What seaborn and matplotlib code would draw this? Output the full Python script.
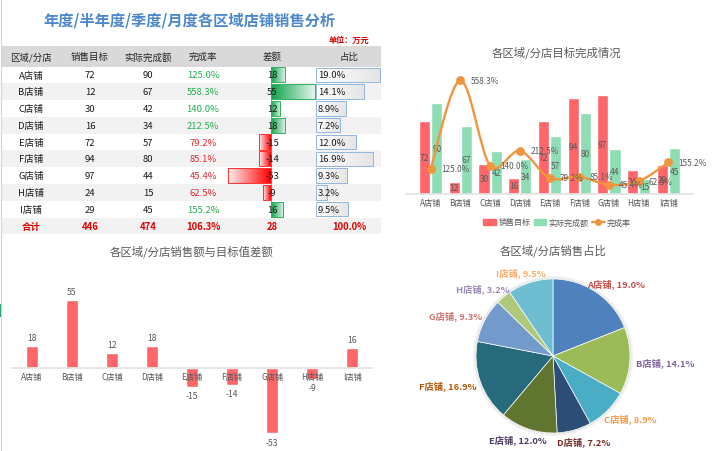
import numpy as np
import pandas as pd
import matplotlib
matplotlib.use("Agg")
import matplotlib.pyplot as plt
import matplotlib.colors as mcolors
from matplotlib.patches import Rectangle, PathPatch, Patch, Circle
from matplotlib.lines import Line2D
from matplotlib.path import Path
import seaborn as sns

# ---------------- data ----------------
stores = ['A店铺', 'B店铺', 'C店铺', 'D店铺', 'E店铺', 'F店铺', 'G店铺', 'H店铺', 'I店铺']
targets = [72, 12, 30, 16, 72, 94, 97, 24, 29]
actuals = [90, 67, 42, 34, 57, 80, 44, 15, 45]
rates = [125.0, 558.3, 140.0, 212.5, 79.2, 85.1, 45.4, 62.5, 155.2]
diffs = [18, 55, 12, 18, -15, -14, -53, -9, 16]
shares = [19.0, 14.1, 8.9, 7.2, 12.0, 16.9, 9.3, 3.2, 9.5]
headers = ['区域/分店', '销售目标', '实际完成额', '完成率', '差额', '占比']
total_row = ['合计', '446', '474', '106.3%', '28', '100.0%']
series_names = ['销售目标', '实际完成额', '完成率']

main_title = '年度/半年度/季度/月度各区域店铺销售分析'
unit_text = '单位：万元'
title_combo = '各区域/分店目标完成情况'
title_diff = '各区域/分店销售额与目标值差额'
title_pie = '各区域/分店销售占比'

# ---------------- style ----------------
sns.set_theme(style='white')
plt.rcParams['font.family'] = ['Noto Sans CJK SC', 'DejaVu Sans']
plt.rcParams['axes.unicode_minus'] = False

RED = '#FF6669'
MINT = '#8FDDB3'
ORANGE = '#F0953F'
GRAY_TXT = '#595959'
GREEN_TXT = '#22B14C'
RED_TXT = '#E8262B'

W, H = 726, 452
fig = plt.figure(figsize=(W / 100, H / 100), dpi=100)
fig.patch.set_facecolor('white')


def px_axes(x0, y0, x1, y1, **kw):
    return fig.add_axes([x0 / W, 1 - y1 / H, (x1 - x0) / W, (y1 - y0) / H], **kw)


bg = fig.add_axes([0, 0, 1, 1], zorder=0)
bg.set_xlim(0, W); bg.set_ylim(H, 0); bg.axis('off')
bg.plot([0.6, 0.6], [0, H], color='#D4D4D4', lw=0.8)
bg.add_patch(Rectangle((0, 305), 1.8, 13, color='#21A366', lw=0))

# ---------------- table ----------------
ROW0, RH = 67.5, 16.78
bg.add_patch(Rectangle((2, 47), 379, ROW0 - 47, color='#D9D9D9', lw=0))
for i in range(10):
    if i % 2 == 1:
        bg.add_patch(Rectangle((2, ROW0 + i * RH), 379, RH, color='#F2F2F2', lw=0))


def gradient_bars(ax, colors_axis, colors_far, edges):
    xl, yl = ax.get_xlim(), ax.get_ylim()
    t = np.linspace(0, 1, 64)[:, None]
    for p, ca, cf, ec in zip(ax.patches, colors_axis, colors_far, edges):
        x0, y0, w, h = p.get_x(), p.get_y(), p.get_width(), p.get_height()
        if w == 0:
            continue
        c0 = np.array(mcolors.to_rgb(ca)); c1 = np.array(mcolors.to_rgb(cf))
        cols = c0[None, :] * (1 - t) + c1[None, :] * t
        im = ax.imshow(cols[None, :, :], extent=[x0, x0 + w, y0, y0 + h], aspect='auto',
                       interpolation='bilinear', zorder=p.get_zorder() - 0.1)
        im.set_clip_path(p)
        p.set_facecolor('none'); p.set_edgecolor(ec); p.set_linewidth(0.7)
    ax.set_xlim(xl); ax.set_ylim(yl)


# difference data bars
axd = px_axes(225, ROW0, 320, ROW0 + 9 * RH, zorder=2)
sns.barplot(x=diffs, y=stores, orient='h', color='#22B14C', width=0.9, ax=axd)
axd.set_xlim(-(270.5 - 225) / 0.8, (320 - 270.5) / 0.8)
axd.set_ylim(8.5, -0.5)
gradient_bars(axd,
              ['#0FA24C' if d >= 0 else '#FF0000' for d in diffs],
              ['#E3F5E9' if d >= 0 else '#FFF0F0' for d in diffs],
              ['#33B25E' if d >= 0 else '#FF3030' for d in diffs])
axd.axvline(0, color='#7F7F7F', lw=0.5, zorder=3)
axd.axis('off'); axd.patch.set_alpha(0)

# share data bars
axs = px_axes(316, ROW0, 384, ROW0 + 9 * RH, zorder=2)
sns.barplot(x=shares, y=stores, orient='h', color='white', width=0.86, ax=axs)
axs.set_xlim(0, 68 / 3.37)
axs.set_ylim(8.5, -0.5)
gradient_bars(axs, ['#FFFFFF'] * 9, ['#E4E4E4'] * 9, ['#92B6DE'] * 9)
axs.axis('off'); axs.patch.set_alpha(0)

# ---------------- combo chart (top right) ----------------
ax1 = px_axes(406, 73, 693, 195, zorder=2)
df = pd.DataFrame({'store': stores * 2,
                   'value': targets + actuals,
                   'series': [series_names[0]] * len(stores) + [series_names[1]] * len(stores)})
sns.barplot(data=df, x='store', y='value', hue='series', palette=[RED, MINT],
            width=0.82, gap=0.08, ax=ax1, legend=False, saturation=1)
ax1.set_ylim(0, 120)
for c in ax1.containers:
    ax1.bar_label(c, label_type='center', fontsize=6, color=GRAY_TXT)
for s in ['left', 'right', 'top']:
    ax1.spines[s].set_visible(False)
ax1.spines['bottom'].set_color('#E3E3E3')
ax1.set_yticks([])
ax1.set_xlabel(''); ax1.set_ylabel('')
ax1.tick_params(axis='x', length=0, labelsize=5.9, colors=GRAY_TXT, pad=3)
ax1.patch.set_alpha(0)

ax2 = ax1.twinx()
ax2.set_ylim(0, 600)
xs = np.arange(len(rates), dtype=float)
P = np.column_stack([xs, np.array(rates, dtype=float)])
Pe = np.vstack([P[0], P, P[-1]])
verts = [tuple(P[0])]
codes = [Path.MOVETO]
for i in range(len(P) - 1):
    p0, p1, p2, p3 = Pe[i], Pe[i + 1], Pe[i + 2], Pe[i + 3]
    c1 = p1 + (p2 - p0) / 6.0
    c2 = p2 - (p3 - p1) / 6.0
    verts += [tuple(c1), tuple(c2), tuple(p2)]
    codes += [Path.CURVE4] * 3
ax2.add_patch(PathPatch(Path(verts, codes), fill=False, edgecolor=ORANGE, lw=1.7, zorder=4))
sns.scatterplot(x=xs, y=rates, ax=ax2, color=ORANGE, s=34, edgecolor=ORANGE, zorder=5, legend=False)
for x, r in zip(xs, rates):
    ax2.annotate(f'{r:.1f}%', (x, r), xytext=(7.5, 0), textcoords='offset points',
                 ha='left', va='center', fontsize=5.9, color=GRAY_TXT, zorder=6)
for s in ax2.spines.values():
    s.set_visible(False)
ax2.set_yticks([]); ax2.set_ylabel('')

handles = [Patch(color=RED), Patch(color=MINT),
           Line2D([0], [0], color=ORANGE, lw=1.6, marker='o', ms=4)]
fig.legend(handles, series_names, loc='center', bbox_to_anchor=(557 / W, 1 - 223 / H),
           bbox_transform=fig.transFigure, ncol=3, frameon=False, fontsize=5.8,
           handlelength=1.6, handleheight=0.8, columnspacing=0.4, handletextpad=0.25,
           labelcolor=GRAY_TXT)

# ---------------- difference chart (bottom left) ----------------
ax3 = px_axes(12, 295, 372, 443, zorder=2)
sns.barplot(x=stores, y=diffs, color=RED, width=0.3, ax=ax3, saturation=1)
ax3.set_ylim(-60, 60)
ax3.bar_label(ax3.containers[0], padding=3, fontsize=6.2, color=GRAY_TXT)
for s in ['left', 'right', 'top']:
    ax3.spines[s].set_visible(False)
ax3.spines['bottom'].set_position(('data', 0))
ax3.spines['bottom'].set_color('#E3E3E3')
ax3.set_axisbelow(False)
ax3.set_yticks([])
ax3.tick_params(axis='x', length=0, labelsize=5.9, colors=GRAY_TXT, pad=3)
ax3.set_xlabel(''); ax3.set_ylabel('')
ax3.patch.set_alpha(0)

# ---------------- pie (bottom right) ----------------
pie_colors = ['#4F81BD', '#9BBB59', '#4BACC6', '#2C4D75', '#5F7530',
              '#276A7C', '#729ACA', '#AFC97A', '#6FBDD1']
label_colors = ['#C0504D', '#8064A2', '#F79646', '#772C2A', '#4D3B62',
                '#B65708', '#CD7371', '#9C8AB3', '#F9AB6B']
r_half = 77 * 1.25
axp = px_axes(553 - r_half, 357 - r_half, 553 + r_half, 357 + r_half, zorder=2)
axp.add_patch(Circle((0, 0), 1.04, color='#E2E2E2', alpha=0.35, lw=0, zorder=0))
axp.add_patch(Circle((0, 0), 1.02, color='#D6D6D6', alpha=0.45, lw=0, zorder=0))
wedges, texts = axp.pie(shares, colors=pie_colors, startangle=90, counterclock=False,
                        labels=[f'{s}, {v:.1f}%' for s, v in zip(stores, shares)],
                        labeldistance=1.1,
                        textprops=dict(fontsize=6.7, fontweight='bold'),
                        wedgeprops=dict(edgecolor='white', linewidth=0.5))
axp.set_xlim(-1.25, 1.25); axp.set_ylim(-1.25, 1.25)
axp.set_aspect('equal')

fig.canvas.draw()
renderer = fig.canvas.get_renderer()
inv = axp.transData.inverted()
for w_, t, c in zip(wedges, texts, label_colors):
    t.set_color(c)
    th = np.deg2rad((w_.theta1 + w_.theta2) / 2)
    bb = t.get_window_extent(renderer)
    (x0, y0), (x1, y1) = inv.transform([[bb.x0, bb.y0], [bb.x1, bb.y1]])
    tw, tht = abs(x1 - x0), abs(y1 - y0)
    px, py = 1.08 * np.cos(th), 1.08 * np.sin(th)
    t.set_position((px + tw / 2 * np.cos(th), py + tht / 2 * np.sin(th)))
    t.set_ha('center'); t.set_va('center')

# ---------------- foreground texts ----------------
fg = fig.add_axes([0, 0, 1, 1], zorder=10)
fg.set_xlim(0, W); fg.set_ylim(H, 0); fg.axis('off'); fg.patch.set_alpha(0)

fg.text(190, 20, main_title, ha='center', va='center', fontsize=11, fontweight='bold', color='#4D88CC')
fg.text(369, 40, unit_text, ha='right', va='center', fontsize=5.9, fontweight='bold', color='#E00000')

col_x = [31, 90, 148, 203, 272, 349]
for x, h in zip(col_x, headers):
    fg.text(x, 57.5, h, ha='center', va='center', fontsize=6.8, color='#262626')
for i in range(len(stores)):
    yc = ROW0 + (i + 0.5) * RH
    fg.text(col_x[0], yc, stores[i], ha='center', va='center', fontsize=6.8, color='#1A1A1A')
    fg.text(col_x[1], yc, str(targets[i]), ha='center', va='center', fontsize=6.8, color='#1A1A1A')
    fg.text(col_x[2], yc, str(actuals[i]), ha='center', va='center', fontsize=6.8, color='#1A1A1A')
    fg.text(col_x[3], yc, f'{rates[i]:.1f}%', ha='center', va='center', fontsize=6.8,
            color=GREEN_TXT if rates[i] >= 100 else RED_TXT)
    fg.text(col_x[4], yc, str(diffs[i]), ha='center', va='center', fontsize=6.8, color='#1A1A1A')
    fg.text(318, yc, f'{shares[i]:.1f}%', ha='left', va='center', fontsize=6.8, color='#1A1A1A')
yt = ROW0 + 9.5 * RH
for x, t in zip(col_x, total_row):
    fg.text(x, yt, t, ha='center', va='center', fontsize=6.8, fontweight='bold', color='#E00000')

fg.text(557, 53, title_combo, ha='center', va='center', fontsize=8.2, color=GRAY_TXT)
fg.text(192, 252, title_diff, ha='center', va='center', fontsize=8.2, color=GRAY_TXT)
fg.text(553, 251, title_pie, ha='center', va='center', fontsize=8.2, color=GRAY_TXT)

fig.savefig('out.png', dpi=100, facecolor='white')
